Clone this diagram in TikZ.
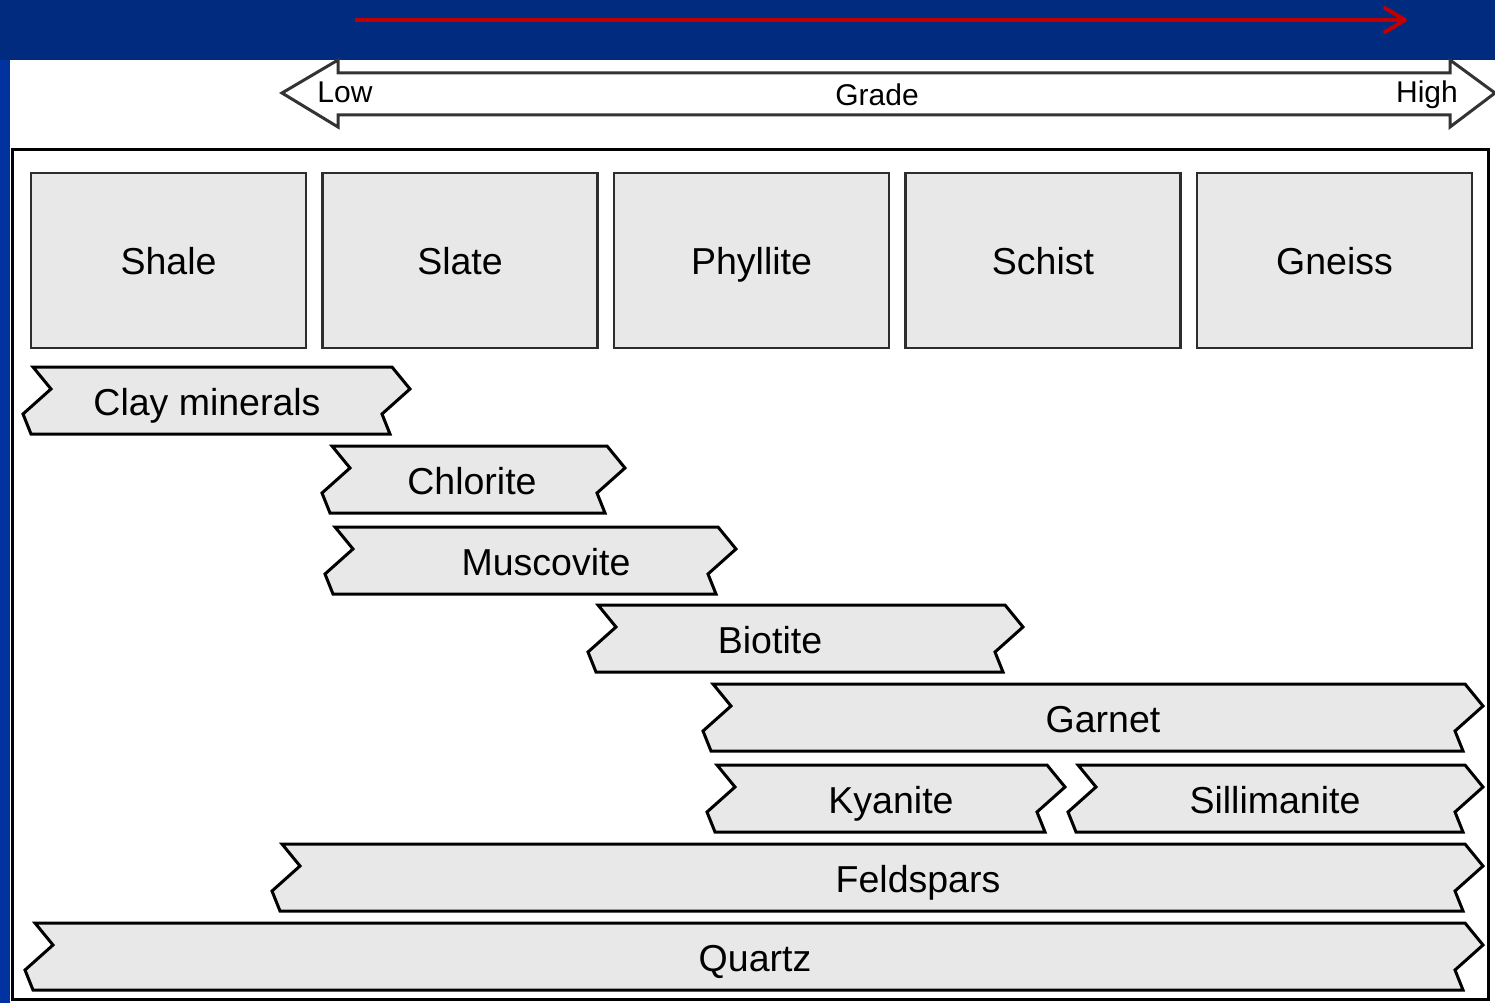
\documentclass[tikz,border=0pt]{standalone}
\usepackage{fontspec}
\setmainfont{Liberation Sans}
\usetikzlibrary{positioning,arrows.meta}

\definecolor{slideblue}{RGB}{0,43,127}
\definecolor{sideblue}{RGB}{0,51,160}
\definecolor{arrowred}{RGB}{192,0,0}
\definecolor{boxgray}{RGB}{232,232,232}
\definecolor{edgegray}{RGB}{45,45,45}

\tikzset{
  rockbox/.style={draw=edgegray, line width=2.5pt, fill=boxgray,
    minimum width=275pt, minimum height=175pt, inner sep=0pt,
    text height=27pt, text depth=0pt,
    font=\fontsize{37.5}{40}\selectfont},
  band/.style={draw=black, line width=3pt, fill=boxgray},
  bandtext/.style={inner sep=0pt, text height=27pt, text depth=0pt,
    font=\fontsize{37.5}{40}\selectfont},
  gradetext/.style={inner sep=0pt, text height=22pt, text depth=0pt,
    font=\fontsize{30}{32}\selectfont},
}

% mineral ribbon: name, left x, right x, top y, text x, text
\newcommand{\band}[6]{%
  \draw[band] (#2,#4) -- ({#2+18},{#4+22}) -- ({#2-10},{#4+47}) -- ({#2-2},{#4+67})
    -- ({#3-2},{#4+67}) -- ({#3-10},{#4+47}) -- ({#3+18},{#4+22}) -- (#3,#4) -- cycle;
  \node[bandtext] (#1) at (#5,{#4+35}) {#6};
}

\begin{document}
\begin{tikzpicture}[x=1pt,y=-1pt,>={Straight Barb[length=20pt,width=24pt,round]}]
\useasboundingbox (0,0) rectangle (1495,1003);
%background of the slide
\fill[slideblue] (0,0) rectangle (1495,60);
\fill[sideblue] (0,60) rectangle (10,1003);
\fill[white] (10,60) rectangle (1495,1003);

%red arrow on the title bar
\coordinate (redstart) at (355,20);
\coordinate (redend) at (1407,20);
\draw[arrowred, line width=4pt, ->] (redstart) -- (redend);

%grade arrow
\draw[black!80, line width=3pt, fill=white] (282,93) -- (338,60) -- (338,73) -- (1450,73) -- (1450,60)
  -- (1495,93) -- (1450,127) -- (1450,115) -- (338,115) -- (338,127) -- cycle;
\node[gradetext] (low) at (345,92) {Low};
\node[gradetext] (grade) at (877,95) {Grade};
\node[gradetext] (high) at (1427,92) {High};

%frame
\draw[black, line width=3pt] (12,150) rectangle (1488,999);

%rocks
\node[rockbox] (shale) at (168.5,260.5) {Shale};
\node[rockbox, right=14pt of shale] (slate) {Slate};
\node[rockbox, right=14pt of slate] (phyllite) {Phyllite};
\node[rockbox, right=14pt of phyllite] (schist) {Schist};
\node[rockbox, right=14pt of schist] (gneiss) {Gneiss};

%minerals
\band{clay}{33}{392}{367}{207}{Clay minerals}
\band{chlorite}{332}{607}{446}{472}{Chlorite}
\band{muscovite}{335}{718}{527}{546}{Muscovite}
\band{biotite}{598}{1005}{605}{770}{Biotite}
\band{garnet}{713}{1465}{684}{1103}{Garnet}
\band{kyanite}{717}{1047}{765}{891}{Kyanite}
\band{sillimanite}{1078}{1465}{765}{1275}{Sillimanite}
\band{feldspars}{282}{1465}{844}{918}{Feldspars}
\band{quartz}{35}{1465}{923}{755}{Quartz}

\end{tikzpicture}
\end{document}
